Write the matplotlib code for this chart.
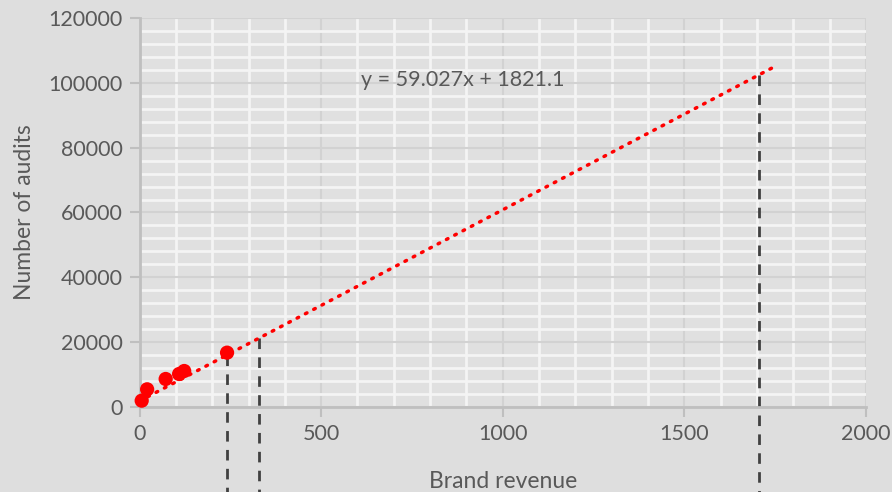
import matplotlib.pyplot as plt
import numpy as np
from matplotlib.ticker import MultipleLocator

# data
revenue = [6, 21, 72, 109, 123, 241]
audits = [1950, 5450, 8640, 10180, 11100, 16760]
slope, intercept = 59.027, 1821.1
trend_x = [0, 1750]
guide_x = [242, 330, 1706]

plt.rcParams['font.family'] = ['Lato', 'DejaVu Sans']
bg = '#dedede'
txt = '#595959'

fig = plt.figure(figsize=(8.92, 4.92), dpi=100, facecolor=bg)
ax = fig.add_axes([0.1564, 0.1728, 0.8146, 0.7906])
ax.set_facecolor('#e0e0e0')

ax.set_xlim(0, 2000)
ax.set_ylim(0, 120000)
ax.xaxis.set_major_locator(MultipleLocator(500))
ax.xaxis.set_minor_locator(MultipleLocator(100))
ax.yaxis.set_major_locator(MultipleLocator(20000))
ax.yaxis.set_minor_locator(MultipleLocator(4000))

ax.grid(which='minor', color='#f4f4f4', lw=2)
ax.grid(which='major', color='#d2d2d2', lw=1.5)
ax.set_axisbelow(True)

for s in ['top', 'right']:
    ax.spines[s].set_visible(False)
for s in ['left', 'bottom']:
    ax.spines[s].set_color('#bfbfbf')
    ax.spines[s].set_linewidth(2)
ax.tick_params(which='major', length=7, width=1.5, color='#bfbfbf', labelsize=15.5,
               labelcolor=txt, pad=5)
ax.tick_params(which='minor', length=0)

# trendline
tx = np.array(trend_x)
ax.plot(tx, slope * tx + intercept, color='#ff0000', lw=2.5, ls=(0, (0.5, 2.2)),
        dash_capstyle='round', zorder=3)

# points
ax.scatter(revenue, audits, s=105, color='#ff0000', zorder=4, edgecolors='none',
           clip_on=False)

# guide lines down past the axis
for gx in guide_x:
    gy = slope * gx + intercept
    ax.plot([gx, gx], [gy, -32000], color='#404040', lw=2, ls=(0, (3.8, 3)),
            clip_on=False, zorder=2)

ax.text(610, 101000, 'y = 59.027x + 1821.1', fontsize=15.5, color=txt, va='center')

ax.set_xlabel('Brand revenue', fontsize=16.5, color=txt, labelpad=20)
ax.set_ylabel('Number of audits', fontsize=16.5, color=txt, labelpad=10)

fig.savefig('out.png', dpi=100, facecolor=bg)
